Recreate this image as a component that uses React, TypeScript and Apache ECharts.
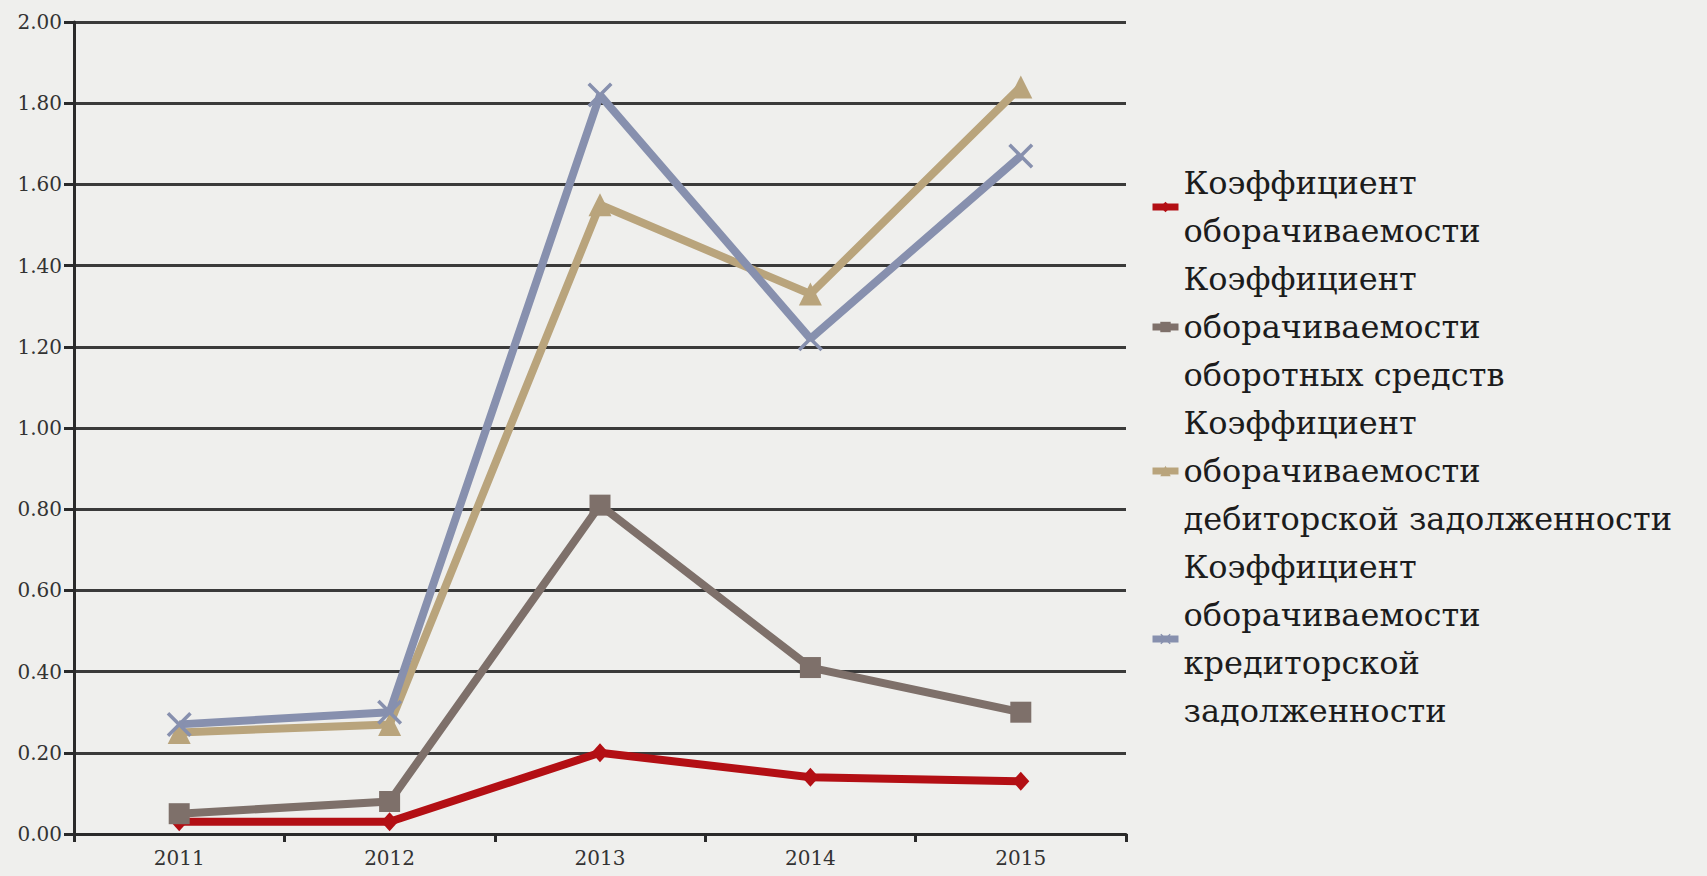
import React, { useEffect, useRef } from "react";
import * as echarts from "echarts";

const years = ["2011", "2012", "2013", "2014", "2015"];
const seriesNames = [
  "Коэффициент оборачиваемости",
  "Коэффициент оборачиваемости оборотных средств",
  "Коэффициент оборачиваемости дебиторской задолженности",
  "Коэффициент оборачиваемости кредиторской задолженности",
];
const legendLabels = [
  "Коэффициент\nоборачиваемости",
  "Коэффициент\nоборачиваемости\nоборотных средств",
  "Коэффициент\nоборачиваемости\nдебиторской задолженности",
  "Коэффициент\nоборачиваемости\nкредиторской\nзадолженности",
];
const turnover = [0.03, 0.03, 0.2, 0.14, 0.13];
const currentAssets = [0.05, 0.08, 0.81, 0.41, 0.3];
const receivables = [0.25, 0.27, 1.55, 1.33, 1.84];
const payables = [0.27, 0.3, 1.82, 1.22, 1.67];
const yTicks = { min: 0, max: 2, interval: 0.2 };

const colors = ["#B30F14", "#7E706A", "#B9A47C", "#8790AE"];
const crossPath =
  "path://M0,2 L2,0 L10,8 L18,0 L20,2 L12,10 L20,18 L18,20 L10,12 L2,20 L0,18 L8,10 Z";

export default function App() {
  const ref = useRef<HTMLDivElement>(null);
  useEffect(() => {
    if (!ref.current) return;
    const chart = echarts.init(ref.current, undefined, { renderer: "svg" });
    const font = "DejaVu Serif";
    const dataSets = [turnover, currentAssets, receivables, payables];
    const symbols = ["diamond", "rect", "triangle", crossPath];
    const sizes: any[] = [[17, 19], 21, 23, 25];
    chart.setOption({
      animation: false,
      backgroundColor: "#EFEFED",
      textStyle: { fontFamily: font },
      grid: { left: 74, right: 581, top: 22, bottom: 42, containLabel: false },
      legend: {
        orient: "vertical",
        left: 1144,
        top: 154,
        itemGap: 0,
        itemWidth: 26,
        itemHeight: 13,
        data: seriesNames,
        lineStyle: { width: 7 },
        formatter: (name: string) => legendLabels[seriesNames.indexOf(name)],
        textStyle: {
          fontFamily: font,
          fontSize: 32,
          lineHeight: 48,
          color: "#1c1c1c",
        },
      },
      xAxis: {
        type: "category",
        data: years,
        boundaryGap: true,
        axisLine: { lineStyle: { color: "#2a2a2a", width: 3 } },
        axisTick: { show: true, length: 8, lineStyle: { color: "#2a2a2a", width: 3 } },
        axisLabel: { fontFamily: font, fontSize: 20, color: "#333", margin: 14 },
        splitLine: { show: false },
      },
      yAxis: {
        type: "value",
        min: yTicks.min,
        max: yTicks.max,
        interval: yTicks.interval,
        axisLine: { show: true, lineStyle: { color: "#2a2a2a", width: 3 } },
        axisTick: { show: true, length: 10, lineStyle: { color: "#2a2a2a", width: 3 } },
        axisLabel: {
          fontFamily: font,
          fontSize: 20,
          color: "#333",
          margin: 12,
          formatter: (v: number) => v.toFixed(2),
        },
        splitLine: { show: true, lineStyle: { color: "#3a3a3a", width: 3 } },
      },
      series: seriesNames.map((name, i) => ({
        name,
        type: "line",
        data: dataSets[i],
        symbol: symbols[i],
        symbolSize: sizes[i],
        showSymbol: true,
        lineStyle: { color: colors[i], width: 8 },
        itemStyle: { color: colors[i], borderWidth: 0 },
      })),
    });
    return () => chart.dispose();
  }, []);
  return (
    <div
      ref={ref}
      style={{ position: "absolute", left: 0, top: 0, width: 1707, height: 876 }}
    />
  );
}
